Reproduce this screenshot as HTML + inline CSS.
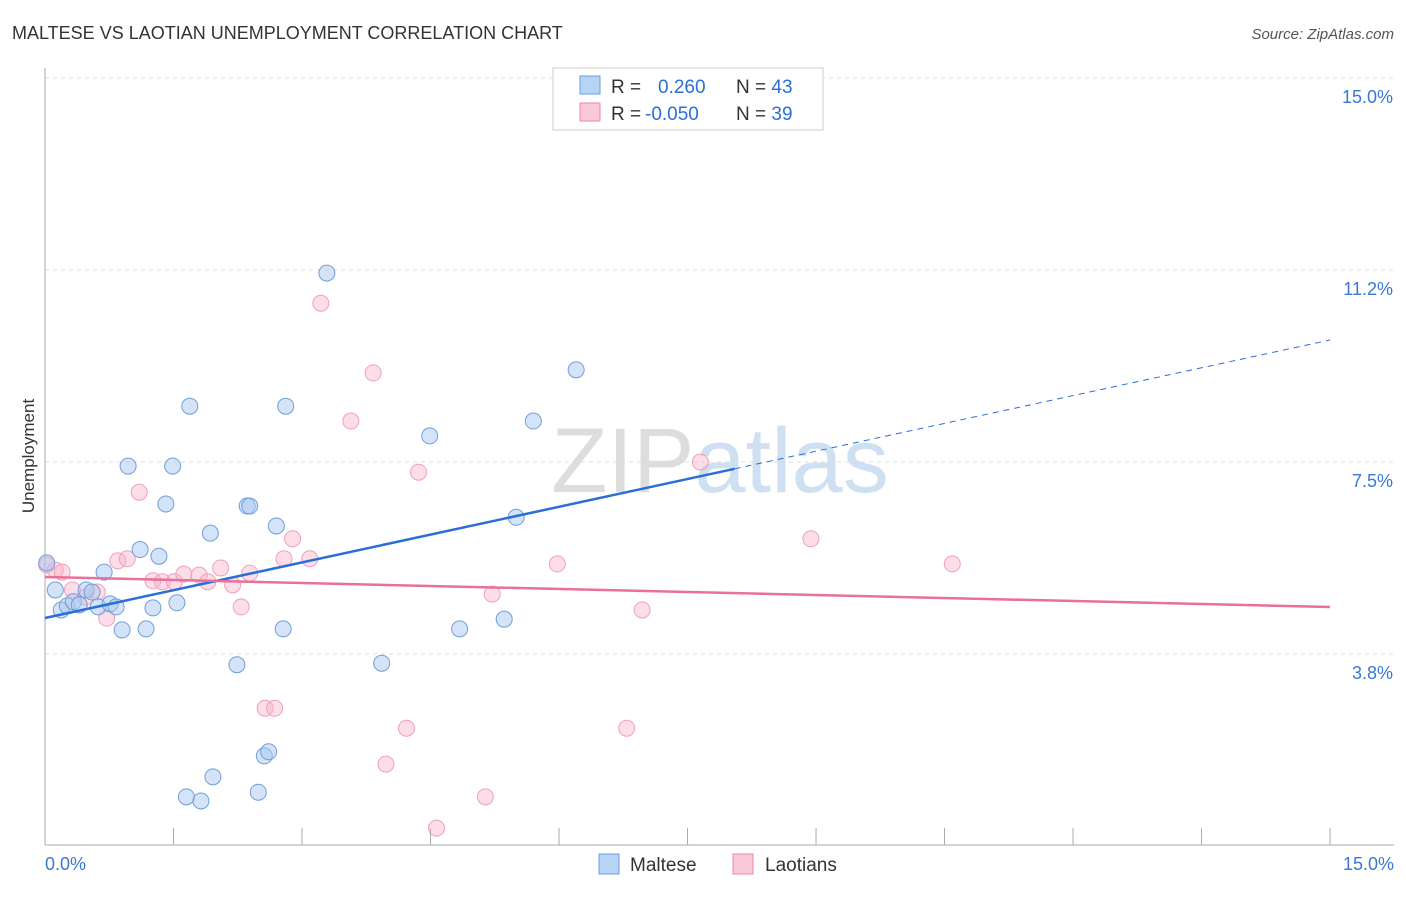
<!DOCTYPE html>
<html><head><meta charset="utf-8"><style>
body{margin:0;background:#fff;font-family:"Liberation Sans",sans-serif;}
svg text{font-family:"Liberation Sans",sans-serif;}
</style></head><body>
<svg id="c" width="1406" height="892" xmlns="http://www.w3.org/2000/svg">
<text x="12" y="39" font-size="18" fill="#333">MALTESE VS LAOTIAN UNEMPLOYMENT CORRELATION CHART</text>
<text x="1394" y="39" font-size="15" fill="#555" font-style="italic" text-anchor="end">Source: ZipAtlas.com</text>
<text x="720" y="492" font-size="92" fill="#ddd" text-anchor="middle" font-family="Liberation Serif">ZIP<tspan fill="#cfe0f2" font-family="Liberation Sans">atlas</tspan></text>
<text x="34" y="456" font-size="17" fill="#333" text-anchor="middle" transform="rotate(-90 34 456)">Unemployment</text>
<g id="grid"></g><g id="marks"></g>
<g>
<rect x="553" y="68" width="270" height="62" fill="#fff" stroke="#ccc"/>
<rect x="580" y="76" width="20" height="18" fill="#b8d4f5" stroke="#6a9fe0"/>
<rect x="580" y="103" width="20" height="18" fill="#fbc8d8" stroke="#e88aa8"/>
<text x="611" y="93" font-size="19" fill="#333">R = <tspan fill="#2a6fd6" x="658">0.260</tspan><tspan x="736">N = </tspan><tspan fill="#2a6fd6">43</tspan></text>
<text x="611" y="120" font-size="19" fill="#333">R = <tspan fill="#2a6fd6" x="645">-0.050</tspan><tspan x="736">N = </tspan><tspan fill="#2a6fd6">39</tspan></text>
</g>
<g>
<rect x="599" y="854" width="20" height="20" fill="#b8d4f5" stroke="#6a9fe0"/>
<text x="630" y="871" font-size="19" fill="#333">Maltese</text>
<rect x="733" y="854" width="20" height="20" fill="#fbc8d8" stroke="#e88aa8"/>
<text x="765" y="871" font-size="19" fill="#333">Laotians</text>
</g>
</svg>
<script>
const yTicks=[15.0,11.25,7.5,3.75];
const yTickLabels=["15.0%","11.2%","7.5%","3.8%"];
const malteseX=[0.02,0.12,0.19,0.26,0.33,0.40,0.48,0.55,0.62,0.69,0.76,0.83,0.90,0.97,1.11,1.18,1.26,1.33,1.41,1.49,1.54,1.69,1.65,1.82,1.93,1.96,2.24,2.36,2.39,2.49,2.56,2.61,2.70,2.78,2.81,3.29,3.93,4.49,4.84,5.36,5.50,5.70,6.20];
const malteseY=[5.53,5.0,4.61,4.69,4.77,4.71,5.0,4.96,4.67,5.35,4.73,4.67,4.22,7.42,5.79,4.24,4.65,5.66,6.68,7.42,4.75,8.59,0.96,0.88,6.11,1.35,3.54,6.64,6.64,1.05,1.76,1.84,6.25,4.24,8.59,11.19,3.57,8.01,4.24,4.43,6.42,8.3,9.3];
const laoX=[0.02,0.12,0.20,0.32,0.47,0.61,0.72,0.85,0.96,1.10,1.26,1.37,1.51,1.62,1.80,1.90,2.05,2.19,2.29,2.39,2.57,2.68,2.79,2.89,3.09,3.22,3.57,3.83,3.98,4.22,4.36,4.57,5.14,5.22,5.98,6.79,6.97,7.65,8.94,10.59];
const laoY=[5.49,5.39,5.35,5.0,4.86,4.96,4.45,5.57,5.61,6.91,5.18,5.16,5.16,5.31,5.29,5.16,5.43,5.1,4.67,5.33,2.69,2.69,5.61,6.0,5.61,10.6,8.3,9.24,1.6,2.3,7.3,0.35,0.96,4.92,5.51,2.3,4.61,7.5,6.0,5.51];
const blueTrend=[4.453,9.883], blueSolidEnd=8.05;
const pinkTrend=[5.254,4.668];
const NS="http://www.w3.org/2000/svg";
const X=v=>45+v*85.67, Y=v=>78+(15-v)*51.2;
function mk(t,a,p){const e=document.createElementNS(NS,t);for(const k in a)e.setAttribute(k,a[k]);p.appendChild(e);return e;}
const g=document.getElementById('grid'),m=document.getElementById('marks');
yTicks.forEach((t,i)=>{
 const l=mk('line',{x1:45,x2:1394,y1:Y(t),y2:Y(t),stroke:'#ddd','stroke-dasharray':'4,4'},g);
 
 
 const tx=mk('text',{x:1393,y:Y(t)+25,'font-size':18,fill:'#3a78d6','text-anchor':'end'},g);tx.textContent=yTickLabels[i];
 
 
});
mk('line',{x1:45,x2:45,y1:68,y2:845,stroke:'#aaa'},g);
mk('line',{x1:45,x2:1394,y1:845,y2:845,stroke:'#aaa'},g);
for(let i=0;i<=10;i++){const x=X(i*1.5);mk('line',{x1:x,x2:x,y1:828,y2:845,stroke:'#aaa'},g);}
const t0=mk('text',{x:45,y:870,'font-size':18,fill:'#3a78d6'},g);t0.textContent='0.0%';


const t1=mk('text',{x:1394,y:870,'font-size':18,fill:'#3a78d6','text-anchor':'end'},g);t1.textContent='15.0%';


laoX.forEach((v,i)=>{const c=mk('circle',{cx:X(v),cy:Y(laoY[i]),r:8,fill:'rgba(248,180,205,0.45)',stroke:'#eea0bb','stroke-width':1},m);
 
 });
malteseX.forEach((v,i)=>{const c=mk('circle',{cx:X(v),cy:Y(malteseY[i]),r:8,fill:'rgba(170,200,240,0.5)',stroke:'#6f9fd8','stroke-width':1},m);
 
 });
const by=v=>blueTrend[0]+(blueTrend[1]-blueTrend[0])*v/15;
const bl=mk('line',{x1:X(0),y1:Y(by(0)),x2:X(blueSolidEnd),y2:Y(by(blueSolidEnd)),stroke:'#2a6fd6','stroke-width':2.5},m);


const bd=mk('line',{x1:X(blueSolidEnd),y1:Y(by(blueSolidEnd)),x2:X(15),y2:Y(by(15)),stroke:'#2a6fd6','stroke-width':1,'stroke-dasharray':'6,5'},m);


const pl=mk('line',{x1:X(0),y1:Y(pinkTrend[0]),x2:X(15),y2:Y(pinkTrend[1]),stroke:'#e8709a','stroke-width':2.5},m);


</script>
</body></html>
